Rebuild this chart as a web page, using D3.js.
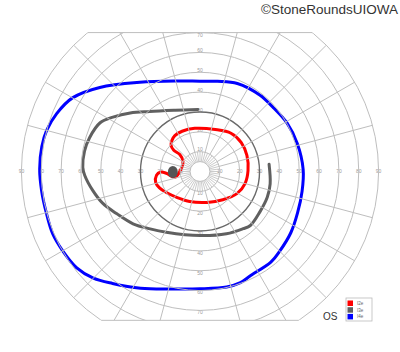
<!DOCTYPE html>
<html>
<head>
<meta charset="utf-8">
<script src="https://cdn.jsdelivr.net/npm/d3@7"></script>
<style>
  body { margin: 0; background: #fff; }
  svg { display: block; font-family: "Liberation Sans", Arial, sans-serif; }
</style>
</head>
<body>
<svg width="400" height="352"></svg>
<script>
// isopters as [meridian (deg, 0 = right, counter clockwise), eccentricity (deg)]
var i2e = [[193,13],[183,17],[181,20],[185,22],[194,23],[202,22],[212,20],[228,17.5],[251,16],
  [283,16],[309,18.3],[329,21.7],[345,23.5],[1,24.2],[19,25],[35,25.4],[51,24.8],[70,22.5],
  [97,21.9],[114,22.2],[125,22.1],[132,21.1],[138,19.6],[141,17],[140,13.3],[149,10],[174,9.7]];

var i3e = [[92,31.3],[112,33.3],[130,39.5],[140,45.9],[148,51.7],[154,56],[163,58.2],[170,59.1],
  [178,59.1],[182,58.1],[190,54.9],[198,51.6],[207,47],[218,42.8],[229,38.3],[241,35],[270,32.3],
  [293,34.1],[307,36.1],[313,37.2],[326,36.4],[339,36.3],[350,35.9],[6,35]];

var i4e = [[1,52],[16,51],[29,50.2],[41,49],[52,48.9],[67,48.2],[79,46.3],[90,45.5],[105,47.2],
  [124,54.2],[140,65.9],[150,74.2],[158,77.9],[165,80],[171,80.7],[179,80.8],[187,80.4],[195,80.2],
  [203,80.6],[210,79.9],[218,78.8],[225,76],[232,71.6],[243,66],[256,61],[270,59.1],[283,59.7],
  [290,59.6],[296,58.3],[308,58],[315,56.8],[326,55.2],[337,53.4],[349,52.4]];

var blindspot = [181, 13.7];

var rings = [5, 10, 20, 30, 40, 50, 60, 70, 80, 90];
var ringLabels = [10, 20, 30, 40, 50, 60, 70, 80, 90];
var meridians = d3.range(0, 360, 15);
var innerMeridians = d3.range(0, 360, 7.5);
var legendNames = ["I2e", "I3e", "I4e"];
var legendColors = ["#ff0000", "#606060", "#0000ff"];

var svg = d3.select("svg"),
    cx = 200, cy = 171.5;

var r = d3.scaleLinear().domain([0, 90]).range([0, 178.6]);

function rad(a) { return (90 - a) * Math.PI / 180; }
function px(a, e) { return [cx + r(e) * Math.cos(a * Math.PI / 180), cy - r(e) * Math.sin(a * Math.PI / 180)]; }

// field limits: 70 up, 75 down
svg.append("clipPath").attr("id", "field")
  .append("rect")
    .attr("x", 0).attr("y", cy - r(70))
    .attr("width", 400).attr("height", r(70) + r(75));

var g = svg.append("g").attr("transform", "translate(" + cx + "," + cy + ")");
var grid = svg.append("g").attr("clip-path", "url(#field)")
    .append("g").attr("transform", "translate(" + cx + "," + cy + ")");

grid.selectAll("circle.ring")
  .data(rings)
  .enter().append("circle")
    .attr("class", "ring")
    .attr("r", function(d) { return r(d); })
    .attr("fill", "none")
    .attr("stroke", function(d) { return d == 30 ? "#6a6a6a" : "#bebebe"; })
    .attr("stroke-width", function(d) { return d == 30 ? 1.4 : 1; });

grid.selectAll("line.spoke")
  .data(meridians)
  .enter().append("line")
    .attr("x1", function(d) { return (d % 90 == 0 ? r(90) : r(10)) * Math.cos(d * Math.PI / 180); })
    .attr("y1", function(d) { return -(d % 90 == 0 ? r(90) : r(10)) * Math.sin(d * Math.PI / 180); })
    .attr("x2", function(d) { return r(90) * Math.cos(d * Math.PI / 180); })
    .attr("y2", function(d) { return -r(90) * Math.sin(d * Math.PI / 180); })
    .attr("stroke", "#bebebe");

grid.selectAll("line.inner")
  .data(innerMeridians)
  .enter().append("line")
    .attr("x1", function(d) { return r(5) * Math.cos(d * Math.PI / 180); })
    .attr("y1", function(d) { return -r(5) * Math.sin(d * Math.PI / 180); })
    .attr("x2", function(d) { return r(10) * Math.cos(d * Math.PI / 180); })
    .attr("y2", function(d) { return -r(10) * Math.sin(d * Math.PI / 180); })
    .attr("stroke", "#bebebe")
    .attr("stroke-width", 0.8);

// top and bottom edges
[[70, 1], [75, -1]].forEach(function(e) {
  var yy = -e[1] * r(e[0]), xx = Math.sqrt(r(90) * r(90) - yy * yy);
  g.append("line")
    .attr("x1", -xx).attr("x2", xx).attr("y1", yy).attr("y2", yy)
    .attr("stroke", "#bebebe");
});

// ring labels on the axes
var lab = g.append("g")
    .attr("font-size", 5)
    .attr("fill", "#9a9a9a")
    .attr("text-anchor", "middle");

[0, 180].forEach(function(a) {
  lab.selectAll(null)
    .data(ringLabels)
    .enter().append("text")
      .attr("x", function(d) { return (a == 0 ? 1 : -1) * r(d); })
      .attr("y", 1.8)
      .text(function(d) { return d; });
});
[90, 270].forEach(function(a) {
  lab.selectAll(null)
    .data(ringLabels.filter(function(d) { return d <= 70; }))
    .enter().append("text")
      .attr("x", 0)
      .attr("y", function(d) { return (a == 90 ? -1 : 1) * (d == 70 && a == 90 ? r(d) - 3 : r(d) + 2) + 1.8; })
      .text(function(d) { return d; });
});

// isopters
var closedLine = d3.lineRadial()
    .angle(function(d) { return rad(d[0]); })
    .radius(function(d) { return r(d[1]); })
    .curve(d3.curveCatmullRomClosed.alpha(0.5));

var openLine = d3.lineRadial()
    .angle(function(d) { return rad(d[0]); })
    .radius(function(d) { return r(d[1]); })
    .curve(d3.curveCatmullRom.alpha(0.5));

g.append("path").attr("d", closedLine(i4e))
    .attr("fill", "none").attr("stroke", "#0000ff").attr("stroke-width", 3);
g.append("path").attr("d", openLine(i3e))
    .attr("fill", "none").attr("stroke", "#606060").attr("stroke-width", 3)
    .attr("stroke-linecap", "round");
g.append("path").attr("d", closedLine(i2e))
    .attr("fill", "none").attr("stroke", "#ff0000").attr("stroke-width", 3);

var bs = px(blindspot[0], blindspot[1]);
svg.append("ellipse")
    .attr("cx", bs[0]).attr("cy", bs[1])
    .attr("rx", 5).attr("ry", 6)
    .attr("fill", "#555");

// legend
var legend = svg.append("g").attr("transform", "translate(346,298)");
legend.append("rect")
    .attr("width", 26).attr("height", 23)
    .attr("fill", "#fff").attr("stroke", "#bbb").attr("stroke-width", 0.8);
legend.selectAll("rect.sw")
  .data(legendNames)
  .enter().append("rect")
    .attr("x", 1.5).attr("y", function(d, i) { return 2.5 + i * 6.7; })
    .attr("width", 5.5).attr("height", 5.5)
    .attr("fill", function(d, i) { return legendColors[i]; });
legend.selectAll("text")
  .data(legendNames)
  .enter().append("text")
    .attr("x", 11).attr("y", function(d, i) { return 7 + i * 6.7; })
    .attr("font-size", 4.5)
    .attr("fill", "#666")
    .text(function(d) { return d; });

svg.append("text")
    .attr("x", 323).attr("y", 320)
    .attr("font-size", 10)
    .attr("fill", "#333")
    .text("OS");

svg.append("text")
    .attr("x", 398).attr("y", 14)
    .attr("text-anchor", "end")
    .attr("font-size", 13.5)
    .attr("fill", "#333")
    .text("©StoneRoundsUIOWA");
</script>
</body>
</html>
